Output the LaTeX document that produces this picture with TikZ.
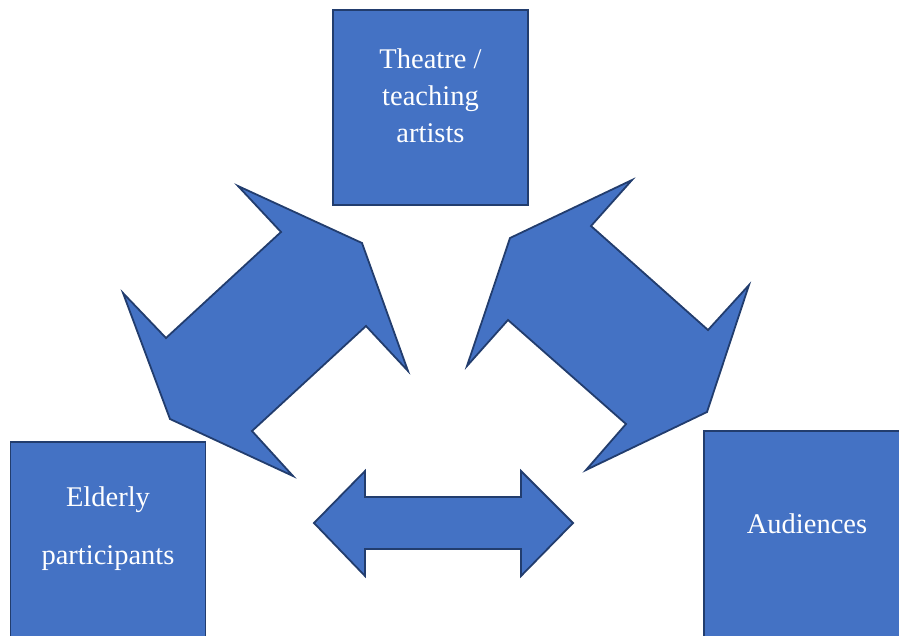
\documentclass[tikz,border=0pt]{standalone}
\usepackage{fontspec}
\setmainfont{Liberation Serif}
\usepackage{xcolor}
\usepackage{tikz}
\definecolor{boxblue}{HTML}{4472C4}
\definecolor{edgeblue}{HTML}{223D6E}

\begin{document}
\begin{tikzpicture}[x=1pt,y=-1pt,
  box/.style={draw=edgeblue,fill=boxblue,line width=1.8pt,minimum width=195pt,minimum height=195pt,inner sep=0pt},
  txt/.style={text=white,font=\fontsize{28.5}{37}\selectfont,align=center},
  blockarrow/.style={draw=edgeblue,fill=boxblue,line width=1.8pt,line join=miter}]
\clip(0,0)rectangle(899,635);
\node[box](T)at(430.5,107.5){};
\node[box](E)at(108,539.5){};
\node[box,minimum width=205pt,minimum height=215pt](A)at(806.5,538.5){};
\node[txt](Tt)at(430.5,96){Theatre /\\teaching\\artists};
\node[txt](Et)at(108,529){Elderly\\[21pt]participants};
\node[txt](At)at(807,524){Audiences};
% left block arrow
\draw[blockarrow](238,186)--(362,243)--(408,371)--(366,326)--(252,431)--(293,476)
  --(170,419)--(123,293)--(166,338)--(281,232)--cycle;
% right block arrow
\draw[blockarrow](632,180)--(591,226)--(708,330)--(749,285)--(707,412)--(586,470)
  --(626,424)--(508,320)--(467,366)--(510,238)--cycle;
% bottom block arrow
\draw[blockarrow](314,523)--(365,471)--(365,497)--(521,497)--(521,471)--(573,523)
  --(521,576)--(521,549)--(365,549)--(365,576)--cycle;
\end{tikzpicture}
\end{document}
